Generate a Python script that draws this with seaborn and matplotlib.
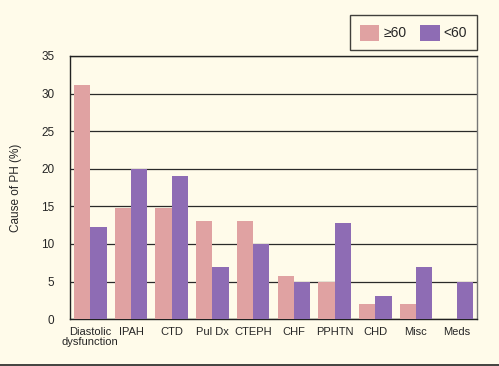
import numpy as np
import pandas as pd
import matplotlib
matplotlib.use("Agg")
import matplotlib.pyplot as plt
import seaborn as sns
from matplotlib.patches import Patch
from matplotlib.lines import Line2D

categories = ["Diastolic\ndysfunction", "IPAH", "CTD", "Pul Dx", "CTEPH",
              "CHF", "PPHTN", "CHD", "Misc", "Meds"]
over_60 = [31.1, 14.8, 14.8, 13.0, 13.0, 5.8, 5.0, 2.0, 2.0, 0.0]
under_60 = [12.3, 20.0, 19.1, 7.0, 10.0, 5.0, 12.8, 3.1, 7.0, 5.0]
groups = ["\u226560", "<60"]
y_ticks = [0, 5, 10, 15, 20, 25, 30, 35]

BG = "#FFFBEA"
PINK = "#E0A2A2"
PURPLE = "#8E6CB4"

df = pd.DataFrame({
    "category": categories * 2,
    "value": over_60 + under_60,
    "group": [groups[0]] * len(categories) + [groups[1]] * len(categories),
})

sns.set_style("white")
plt.rcParams["font.family"] = ["Liberation Sans", "DejaVu Sans"]

fig = plt.figure(figsize=(4.99, 3.66), dpi=100, facecolor=BG)
ax = fig.add_axes([0.140, 0.128, 0.816, 0.719])
ax.set_facecolor(BG)

sns.barplot(data=df, x="category", y="value", hue="group", order=categories,
            hue_order=groups, palette=[PINK, PURPLE], width=0.8, gap=0,
            saturation=1, edgecolor="none", linewidth=0, legend=False, ax=ax,
            zorder=3)

ax.set_ylim(0, 35)
ax.set_xlim(-0.5, len(categories) - 0.5)
ax.set_yticks(y_ticks)
ax.yaxis.grid(True, color="#2a2a2a", linewidth=0.9, zorder=1)
ax.set_axisbelow(True)

ax.set_xticks(range(len(categories)))
ax.set_xticklabels(categories, fontsize=8, linespacing=0.95)
ax.set_xticks(np.arange(0.5, len(categories), 1.0), minor=True)
ax.tick_params(axis="x", which="major", length=0, pad=6)
ax.tick_params(axis="x", which="minor", length=6, width=1, color="#222222",
               direction="out")
ax.tick_params(axis="y", length=9, width=1, color="#222222", labelsize=8.5, pad=2)

ax.set_xlabel("")
ax.set_ylabel("Cause of PH (%)", fontsize=8.5, labelpad=14)

for side in ["left", "bottom", "top"]:
    ax.spines[side].set_color("#222222")
    ax.spines[side].set_linewidth(1)
ax.spines["right"].set_color("#777777")
ax.spines["right"].set_linewidth(1)

handles = [Patch(facecolor=PINK, edgecolor="none"),
           Patch(facecolor=PURPLE, edgecolor="none")]
leg = fig.legend(handles, groups, loc="upper right",
                 bbox_to_anchor=(0.956, 0.959), borderaxespad=0, ncol=2,
                 frameon=True, fontsize=10, handlelength=1.4,
                 handleheight=1.4, handletextpad=0.3, columnspacing=1.0,
                 borderpad=0.7, fancybox=False)
leg.get_frame().set_edgecolor("#111111")
leg.get_frame().set_linewidth(1)
leg.get_frame().set_facecolor(BG)

fig.add_artist(Line2D([0, 1], [0.004, 0.004], transform=fig.transFigure,
                      color="#222222", linewidth=1.2))

fig.savefig("out.png", dpi=100, facecolor=BG)
